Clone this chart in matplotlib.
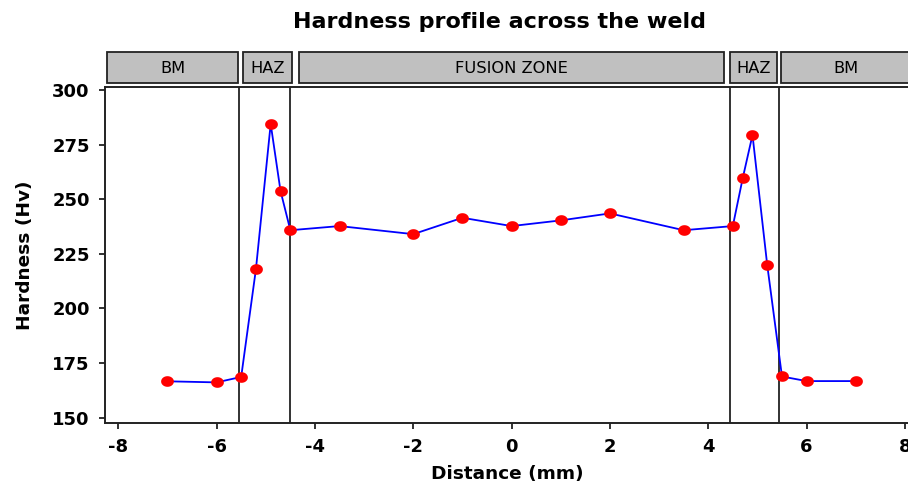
import numpy as np
import matplotlib
matplotlib.use("Agg")
import matplotlib.pyplot as plt
from matplotlib.path import Path
import matplotlib.transforms as mtransforms
from matplotlib.patches import Rectangle

# ---- data ----
distance = [-7, -6, -5.5, -5.2, -4.9, -4.7, -4.5, -3.5, -2, -1, 0, 1, 2, 3.5,
            4.5, 4.7, 4.9, 5.2, 5.5, 6, 7]
hardness = [166.6, 166.1, 168.6, 218, 284.5, 253.8, 235.8, 237.7, 234, 241.5,
            237.7, 240.3, 243.5, 235.8, 237.7, 259.5, 279.4, 219.8, 168.8, 166.7, 166.7]
zone_lines = [-5.55, -4.5, 4.45, 5.43]
zone_labels = ["BM", "HAZ", "FUSION ZONE", "HAZ", "BM"]
zone_box_edges = [(-8.22, -5.57), (-5.47, -4.46), (-4.33, 4.33), (4.44, 5.39), (5.49, 8.3)]
xticks = [-8, -6, -4, -2, 0, 2, 4, 6, 8]
yticks = [150, 175, 200, 225, 250, 275, 300]

plt.rcParams['font.family'] = ['DejaVu Sans']

fig = plt.figure(figsize=(9.08, 4.88), dpi=100)
ax = fig.add_axes([105/908, 1 - 423/488, 1 - 105/908 + 0.002, 336/488])

# ellipse marker (wider than tall)
t = np.linspace(0, 2*np.pi, 60)
ell = Path(np.column_stack([1.2*np.cos(t), np.sin(t)]), closed=True)

ax.plot(distance, hardness, color='#0000ff', lw=1.3, zorder=3)
ax.plot(distance, hardness, ls='none', marker=ell, ms=9.2,
        markerfacecolor='#ff0000', markeredgecolor='none', zorder=4)

for xv in zone_lines:
    ax.axvline(xv, color='#222222', lw=1.3, zorder=2)

ax.set_xlim(-8.27, 8.1)
ax.set_ylim(147.5, 301.4)
ax.set_xticks(xticks)
ax.set_yticks(yticks)
ax.set_xticklabels([f"{v:d}" for v in xticks])
ax.tick_params(direction='out', length=4.5, width=1.3, color='#222222',
               labelsize=13, pad=6.5)
for lab in ax.get_xticklabels() + ax.get_yticklabels():
    lab.set_fontweight('bold')

for side in ['left', 'bottom', 'top']:
    ax.spines[side].set_linewidth(1.4)
    ax.spines[side].set_color('#222222')
ax.spines['right'].set_visible(False)

ax.set_xlabel("Distance (mm)", fontsize=13.3, fontweight='bold', labelpad=6)
ax.set_ylabel("Hardness (Hv)", fontsize=13.3, fontweight='bold', labelpad=13)

# zone strips above the axes
trans = mtransforms.blended_transform_factory(ax.transData, ax.transAxes)
y0 = (423 - 83) / 336
y1 = (423 - 52) / 336
for (a, b), lab in zip(zone_box_edges, zone_labels):
    r = Rectangle((a, y0), b - a, y1 - y0, transform=trans, facecolor='#c0c0c0',
                  edgecolor='#222222', lw=1.3, clip_on=False)
    ax.add_patch(r)
    xc = (a + min(b, 8.1)) / 2
    ax.text(xc, (y0 + y1) / 2 - 0.004, lab, transform=trans, ha='center', va='center',
            fontsize=11.7, clip_on=False)

fig.text(500/908, 1 - 22/488, "Hardness profile across the weld", ha='center',
         va='center', fontsize=16, fontweight='bold')

fig.savefig("out.png", dpi=100)
